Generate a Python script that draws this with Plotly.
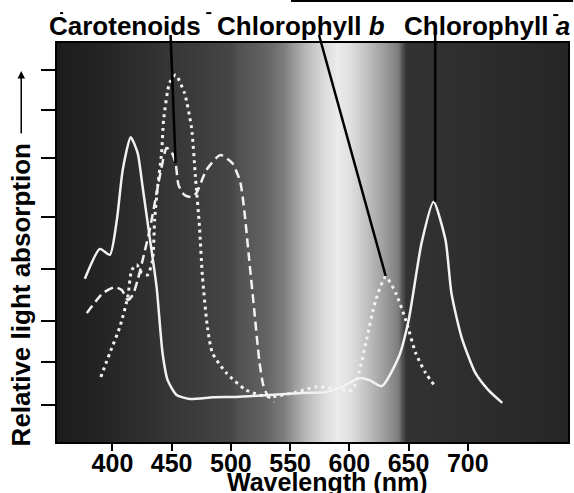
import plotly.graph_objects as go

# ---------------- data ----------------
# Chlorophyll a (solid)
chl_a_nm = [376.7, 389.4, 397.8, 403.7, 408.7, 415.4, 421.3, 425.5, 431.4, 437.3, 442.3, 446.6,
            454.1, 465.1, 485.0, 504.6, 532.3, 560.1, 580.3, 595.0, 608.0, 617.0, 627.4, 641.7,
            650.1, 661.0, 671.1, 681.2, 686.2, 694.7, 706.4, 717.4, 729.1]
chl_a_abs = [0.409, 0.484, 0.469, 0.556, 0.682, 0.764, 0.724, 0.639, 0.514, 0.388, 0.223, 0.155,
             0.118, 0.108, 0.112, 0.113, 0.118, 0.123, 0.125, 0.140, 0.160, 0.155, 0.140, 0.213,
             0.306, 0.499, 0.602, 0.506, 0.373, 0.263, 0.173, 0.130, 0.098]

# Chlorophyll b (dotted)
chl_b_nm = [390.2, 397.8, 406.2, 412.9, 416.3, 420.5, 424.7, 429.7, 433.9, 435.6, 438.1, 441.5,
            443.2, 448.2, 453.3, 460.8, 466.7, 470.1, 473.5, 476.0, 480.2, 484.4, 496.2, 513.0,
            532.3, 555.0, 571.9, 585.3, 602.1, 608.0, 613.9, 622.3, 630.7, 639.2, 647.6, 656.0,
            664.4, 672.8]
chl_b_abs = [0.163, 0.223, 0.288, 0.363, 0.431, 0.444, 0.424, 0.419, 0.456, 0.556, 0.639, 0.724,
             0.807, 0.900, 0.920, 0.875, 0.789, 0.664, 0.539, 0.414, 0.288, 0.223, 0.173, 0.130,
             0.113, 0.125, 0.138, 0.135, 0.130, 0.173, 0.248, 0.356, 0.414, 0.373, 0.306, 0.223,
             0.173, 0.138]

# Carotenoids (dashed)
car_nm = [378.4, 391.9, 402.0, 407.9, 412.9, 417.1, 421.3, 425.5, 431.4, 437.3, 441.5, 445.7,
          449.9, 453.3, 455.8, 460.8, 466.7, 470.9, 479.4, 491.1, 501.2, 507.9, 511.3, 515.5,
          519.7, 523.9, 527.3, 530.7, 536.5]
car_abs = [0.323, 0.373, 0.388, 0.381, 0.356, 0.368, 0.406, 0.456, 0.531, 0.624, 0.689, 0.737,
           0.727, 0.699, 0.644, 0.619, 0.614, 0.624, 0.682, 0.719, 0.699, 0.652, 0.581, 0.456,
           0.331, 0.206, 0.143, 0.118, 0.100]

# visible-spectrum backdrop (grey level by wavelength)
bg_nm = [330, 355, 390, 430, 470, 500, 505, 530, 545, 553, 563, 578, 590, 601, 616, 630, 641,
         644, 648, 700, 760, 800]
bg_gray = [26, 28, 36, 48, 60, 70, 80, 100, 125, 155, 185, 218, 235, 222, 190, 155, 125,
           90, 50, 46, 40, 36]

x_ticks = [400, 450, 500, 550, 600, 650, 700]
y_ticks = [0.093, 0.200, 0.303, 0.434, 0.564, 0.712, 0.832, 0.932]

labels = ["Carotenoids", "Chlorophyll <i>b</i>", "Chlorophyll <i>a</i>"]
label_tail_nm = [449.1, 574.4, 672.5]      # leader line start (under label)
label_head_nm = [453.3, 630.7, 672.5]      # leader line end (on curve)
label_head_abs = [0.699, 0.416, 0.602]

X_RANGE = [353.2, 784.6]

FONT = "Liberation Sans, Arial, sans-serif"

fig = go.Figure()

fig.add_trace(go.Heatmap(
    x=bg_nm, y=[-0.5, 1.5], z=[bg_gray, bg_gray],
    zmin=0, zmax=255, zsmooth="best",
    colorscale=[[0, "black"], [1, "white"]],
    showscale=False, hoverinfo="skip"))

line_col = "#f2f2f2"
fig.add_trace(go.Scatter(x=chl_a_nm, y=chl_a_abs, mode="lines",
                         line=dict(color=line_col, width=2.5, shape="spline", smoothing=0.6),
                         name="Chlorophyll a", showlegend=False))
fig.add_trace(go.Scatter(x=chl_b_nm, y=chl_b_abs, mode="lines",
                         line=dict(color=line_col, width=3, dash="3px,4px", shape="spline", smoothing=0.6),
                         name="Chlorophyll b", showlegend=False))
fig.add_trace(go.Scatter(x=car_nm, y=car_abs, mode="lines",
                         line=dict(color=line_col, width=2.5, dash="9px,5px", shape="spline", smoothing=0.6),
                         name="Carotenoids", showlegend=False))


def px_x(nm):
    return (nm - X_RANGE[0]) / (X_RANGE[1] - X_RANGE[0])


shapes = []
for t_nm, h_nm, h_abs in zip(label_tail_nm, label_head_nm, label_head_abs):
    shapes.append(dict(type="line", xref="paper", yref="paper",
                       x0=px_x(t_nm), y0=1.02, x1=px_x(h_nm), y1=h_abs,
                       line=dict(color="black", width=2.5)))
# top rule and small marks of the original artwork
shapes.append(dict(type="line", xref="paper", yref="paper", x0=0.458, x1=1.01, y0=1.105, y1=1.105,
                   line=dict(color="black", width=2)))
for xa, xb, yy in [(0.006, 0.012, 1.075), (0.292, 0.302, 1.075), (0.971, 0.981, 1.07)]:
    shapes.append(dict(type="line", xref="paper", yref="paper", x0=xa, x1=xb, y0=yy, y1=yy,
                       line=dict(color="black", width=2)))

annotations = []
label_centers = [0.133, 0.478, 0.842]
for txt, xc in zip(labels, label_centers):
    annotations.append(dict(text=txt, xref="paper", yref="paper", x=xc, y=1.042,
                            xanchor="center", yanchor="middle", showarrow=False,
                            font=dict(family=FONT, size=26, color="black", weight="bold")))

annotations.append(dict(text="Wavelength (nm)", xref="paper", yref="paper", x=0.528, y=-0.100,
                        xanchor="center", yanchor="middle", showarrow=False,
                        font=dict(family=FONT, size=25, color="black", weight="bold")))
annotations.append(dict(text="Relative light absorption", xref="paper", yref="paper",
                        x=-0.07, y=0.368, textangle=-90, xanchor="center", yanchor="middle",
                        showarrow=False,
                        font=dict(family=FONT, size=26, color="black", weight="bold")))
annotations.append(dict(text="", xref="paper", yref="paper", x=-0.07, y=0.93,
                        ax=0, ay=64, showarrow=True, arrowhead=2, arrowsize=1,
                        arrowwidth=1.5, arrowcolor="black"))

fig.update_layout(
    width=574, height=493,
    margin=dict(l=57, r=4, t=43, b=51),
    paper_bgcolor="white", plot_bgcolor="#222",
    shapes=shapes, annotations=annotations,
    xaxis=dict(range=X_RANGE, tickvals=x_ticks, ticks="outside", ticklen=7, tickwidth=2,
               tickcolor="black", showgrid=False, zeroline=False, showline=True,
               linecolor="black", linewidth=2, mirror=True, ticklabelstandoff=-9,
               tickfont=dict(family=FONT, size=25, color="black", weight="bold")),
    yaxis=dict(range=[0, 1], tickvals=y_ticks, ticks="outside", ticklen=14, tickwidth=2,
               tickcolor="black", showticklabels=False, showgrid=False, zeroline=False,
               showline=True, linecolor="black", linewidth=2, mirror=True),
)

fig.write_html("out.html", config={"displayModeBar": False},
               post_script="document.body.style.margin='0px';document.body.style.overflow='hidden';")
